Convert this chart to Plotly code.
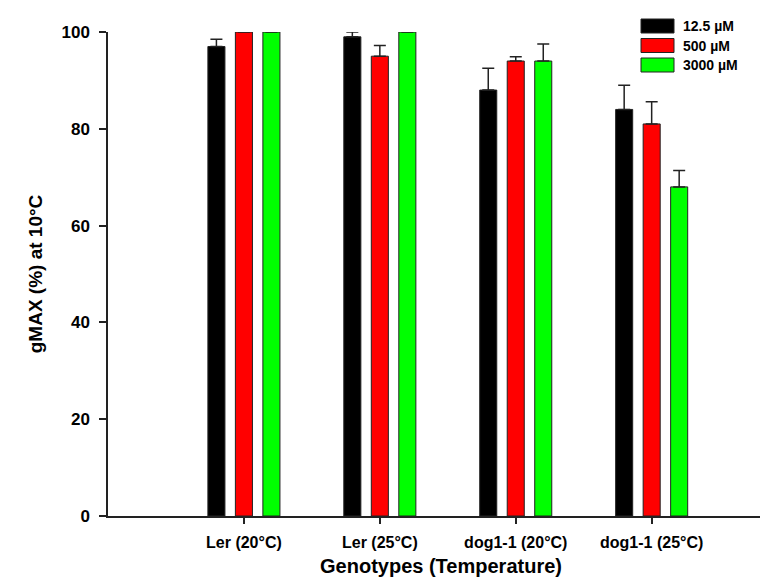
import plotly.graph_objects as go

categories = ["Ler (20°C)", "Ler (25°C)", "dog1-1 (20°C)", "dog1-1 (25°C)"]
series_names = ["12.5 µM", "500 µM", "3000 µM"]
series_colors = ["#000000", "#FF0000", "#00FF00"]
values_12_5 = [97, 99, 88, 84]
values_500 = [100, 95, 94, 81]
values_3000 = [100, 100, 94, 68]
err_12_5 = [1.5, 1.0, 4.5, 5.0]
err_500 = [0, 2.2, 0.9, 4.6]
err_3000 = [0, 0, 3.5, 3.4]
y_ticks = [0, 20, 40, 60, 80, 100]

series_values = [values_12_5, values_500, values_3000]
series_errs = [err_12_5, err_500, err_3000]

W, H = 768, 581
L, R, T, B = 100, 2, 24, 73
FONT = "Liberation Sans, Arial, sans-serif"

fig = go.Figure()
for name, color, vals, errs in zip(series_names, series_colors, series_values, series_errs):
    fig.add_trace(go.Bar(
        x=categories, y=vals, name=name,
        marker=dict(color=color, line=dict(color="#222222", width=1)),
        error_y=dict(type="data", array=errs, arrayminus=[0] * len(errs),
                     symmetric=False, color="#222222", thickness=1.5, width=6),
        showlegend=False,
    ))

# legend drawn as swatches + text (top right)
pw, ph = W - L - R, H - T - B
def px_x(px):
    return (px - L) / pw
def px_y(py):
    return (H - B - py) / ph

shapes = []
annotations = []
for i, (name, color) in enumerate(zip(series_names, series_colors)):
    cy = 18 + 19.5 * i
    shapes.append(dict(type="rect", xref="paper", yref="paper",
                       x0=px_x(633), x1=px_x(666), y0=px_y(cy + 7), y1=px_y(cy - 7),
                       fillcolor=color, line=dict(color="#222222", width=1)))
    annotations.append(dict(xref="paper", yref="paper", x=px_x(673), y=px_y(cy),
                            text="<b>%s</b>" % name, showarrow=False,
                            xanchor="left", yanchor="middle",
                            font=dict(family=FONT, size=14, color="#000000")))

fig.update_layout(
    width=W, height=H,
    margin=dict(l=L, r=R, t=T, b=B),
    paper_bgcolor="white", plot_bgcolor="white",
    barmode="group", bargap=0.393, bargroupgap=0.38,
    shapes=shapes, annotations=annotations,
    font=dict(family=FONT, color="#000000"),
)
fig.update_xaxes(
    range=[-1, 3.9], showline=True, linecolor="#222222", linewidth=1.5,
    ticks="outside", ticklen=6, tickwidth=1.5, tickcolor="#222222",
    tickfont=dict(family=FONT, size=16, color="#000000", weight="bold"),
    ticklabelstandoff=5, showgrid=False, zeroline=False,
    title=dict(text="<b>Genotypes (Temperature)</b>", standoff=9,
               font=dict(family=FONT, size=20, color="#000000")),
)
fig.update_yaxes(
    range=[0, 100], tickvals=y_ticks, showline=True, linecolor="#222222", linewidth=1.5,
    ticks="outside", ticklen=7, tickwidth=1.5, tickcolor="#222222",
    tickfont=dict(family=FONT, size=17, color="#000000", weight="bold"),
    ticklabelstandoff=6, showgrid=False, zeroline=False,
    title=dict(text="<b>gMAX (%) at 10°C</b>", standoff=14,
               font=dict(family=FONT, size=19, color="#000000")),
)

fig.write_html("out.html")
